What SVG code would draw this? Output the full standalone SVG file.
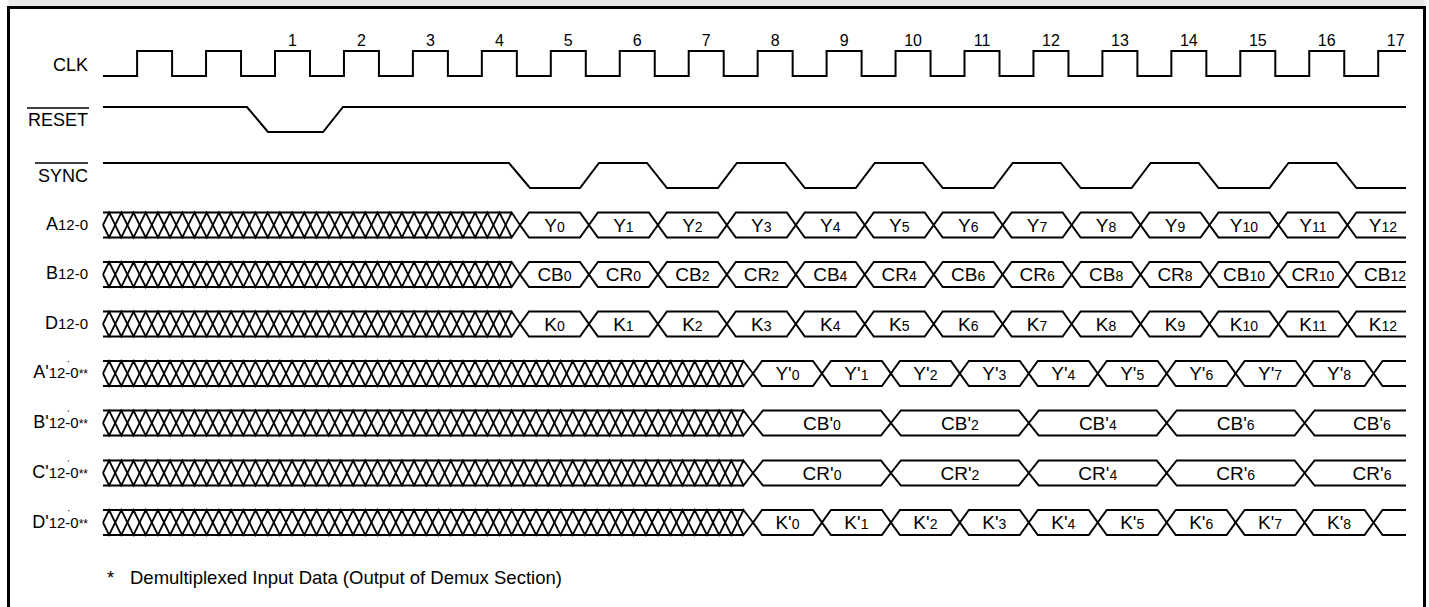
<svg xmlns="http://www.w3.org/2000/svg" width="1429" height="607" viewBox="0 0 1429 607">
<style>
.ln{fill:none;stroke:#000;stroke-width:2;stroke-linejoin:miter}
.hx{fill:none;stroke:#000;stroke-width:1.8;stroke-linejoin:miter}
.bx{fill:#fff;stroke:#000;stroke-width:2;stroke-linejoin:miter}
text{font-family:"Liberation Sans",Arial,Helvetica,sans-serif;fill:#000}
.lbl{font-size:18px;text-anchor:end}
.ls{font-size:15px}
.ast{font-size:12px}
.num{font-size:16px;text-anchor:middle}
.bus{font-size:19px;text-anchor:middle}
.bs{font-size:14px}
.foot{font-size:18.5px}
.ov{stroke:#000;stroke-width:1.5}
</style>
<defs>
<path id="zzS" class="hx" d="M103,12.5 L109.1,0 L121.3,25 L133.5,0 L145.7,25 L157.9,0 L170.1,25 L182.3,0 L194.5,25 L206.7,0 L218.9,25 L231.1,0 L243.3,25 L255.5,0 L267.7,25 L279.9,0 L292.1,25 L304.3,0 L316.5,25 L328.7,0 L340.9,25 L353.1,0 L365.3,25 L377.5,0 L389.7,25 L401.9,0 L414.1,25 L426.3,0 L438.5,25 L450.7,0 L462.9,25 L475.1,0 L487.3,25 L499.5,0 L511.7,25 L520,12.5"/>
<path id="zzL" class="hx" d="M103,12.5 L109.1,0 L121.3,25 L133.5,0 L145.7,25 L157.9,0 L170.1,25 L182.3,0 L194.5,25 L206.7,0 L218.9,25 L231.1,0 L243.3,25 L255.5,0 L267.7,25 L279.9,0 L292.1,25 L304.3,0 L316.5,25 L328.7,0 L340.9,25 L353.1,0 L365.3,25 L377.5,0 L389.7,25 L401.9,0 L414.1,25 L426.3,0 L438.5,25 L450.7,0 L462.9,25 L475.1,0 L487.3,25 L499.5,0 L511.7,25 L523.9,0 L536.1,25 L548.3,0 L560.5,25 L572.7,0 L584.9,25 L597.1,0 L609.3,25 L621.5,0 L633.7,25 L645.9,0 L658.1,25 L670.3,0 L682.5,25 L694.7,0 L706.9,25 L719.1,0 L731.3,25 L743.5,0 L753,12.5"/>
<g id="hatchS">
<use href="#zzS"/>
<use href="#zzS" transform="matrix(1,0,0,-1,0,25)"/>
<path class="ln" d="M103,0 H511.7 M103,25 H511.7"/>
</g>
<g id="hatchL">
<use href="#zzL"/>
<use href="#zzL" transform="matrix(1,0,0,-1,0,25)"/>
<path class="ln" d="M103,0 H743.5 M103,25 H743.5"/>
</g>
<path id="hex69" class="bx" d="M0,12.5 L9,0 L59.95,0 L68.95,12.5 L59.95,25 L9,25 Z"/>
<path id="hex138" class="bx" d="M0,12.5 L10,0 L127.9,0 L137.9,12.5 L127.9,25 L10,25 Z"/>
<path id="tailS" class="ln" d="M0,12.5 L9,0 H58.6 M0,12.5 L9,25 H58.6"/>
<path id="tailP" class="ln" d="M0,12.5 L9,0 H32.45 M0,12.5 L9,25 H32.45"/>
<path id="tailW" class="ln" d="M0,12.5 L10,0 H101.4 M0,12.5 L10,25 H101.4"/>
<g id="rowS">
<use href="#hatchS"/>
<use href="#hex69" x="520"/><use href="#hex69" x="588.95"/><use href="#hex69" x="657.9"/><use href="#hex69" x="726.85"/><use href="#hex69" x="795.8"/><use href="#hex69" x="864.75"/><use href="#hex69" x="933.7"/><use href="#hex69" x="1002.65"/><use href="#hex69" x="1071.6"/><use href="#hex69" x="1140.55"/><use href="#hex69" x="1209.5"/><use href="#hex69" x="1278.45"/>
<use href="#tailS" x="1347.4"/>
</g>
<g id="rowP">
<use href="#hatchL"/>
<use href="#hex69" x="753"/><use href="#hex69" x="821.95"/><use href="#hex69" x="890.9"/><use href="#hex69" x="959.85"/><use href="#hex69" x="1028.8"/><use href="#hex69" x="1097.75"/><use href="#hex69" x="1166.7"/><use href="#hex69" x="1235.65"/><use href="#hex69" x="1304.6"/>
<use href="#tailP" x="1373.55"/>
</g>
<g id="rowW">
<use href="#hatchL"/>
<use href="#hex138" x="753"/><use href="#hex138" x="890.9"/><use href="#hex138" x="1028.8"/><use href="#hex138" x="1166.7"/>
<use href="#tailW" x="1304.6"/>
</g>
</defs>

<g id="frame">
<rect x="8.5" y="0" width="1416" height="7" fill="#e8e8e8"/>
<path d="M8.5,607 V7.5 H1424.5 V607" fill="none" stroke="#000" stroke-width="3"/>
</g>

<g id="clk">
<text class="lbl" x="88" y="71">CLK</text>
<path class="ln" d="M103,76 H137.1 V51 H172.1 V76 H206.05 V51 H241.05 V76 H275 V51 H310 V76 H343.95 V51 H378.95 V76 H412.9 V51 H447.9 V76 H481.85 V51 H516.85 V76 H550.8 V51 H585.8 V76 H619.75 V51 H654.75 V76 H688.7 V51 H723.7 V76 H757.65 V51 H792.65 V76 H826.6 V51 H861.6 V76 H895.55 V51 H930.55 V76 H964.5 V51 H999.5 V76 H1033.45 V51 H1068.45 V76 H1102.4 V51 H1137.4 V76 H1171.35 V51 H1206.35 V76 H1240.3 V51 H1275.3 V76 H1309.25 V51 H1344.25 V76 H1378.2 V51 H1406"/>
<text class="num" x="292.5" y="46">1</text>
<text class="num" x="361.45" y="46">2</text>
<text class="num" x="430.4" y="46">3</text>
<text class="num" x="499.35" y="46">4</text>
<text class="num" x="568.3" y="46">5</text>
<text class="num" x="637.25" y="46">6</text>
<text class="num" x="706.2" y="46">7</text>
<text class="num" x="775.15" y="46">8</text>
<text class="num" x="844.1" y="46">9</text>
<text class="num" x="913.05" y="46">10</text>
<text class="num" x="982" y="46">11</text>
<text class="num" x="1050.95" y="46">12</text>
<text class="num" x="1119.9" y="46">13</text>
<text class="num" x="1188.85" y="46">14</text>
<text class="num" x="1257.8" y="46">15</text>
<text class="num" x="1326.75" y="46">16</text>
<text class="num" x="1395.7" y="46">17</text>
</g>

<g id="reset">
<text class="lbl" x="88" y="126">RESET</text>
<line class="ov" x1="27" y1="108" x2="89" y2="108"/>
<path class="ln" d="M103,107 H247 L268,132 H323 L343,107 H1406"/>
</g>

<g id="sync">
<text class="lbl" x="88" y="182">SYNC</text>
<line class="ov" x1="35" y1="163" x2="88" y2="163"/>
<path class="ln" d="M103,163 H509 L530,188 H580 L599,163 H647 L667,188 H717.9 L736.9,163 H784.9 L804.9,188 H855.8 L874.8,163 H922.8 L942.8,188 H993.7 L1012.7,163 H1060.7 L1080.7,188 H1131.6 L1150.6,163 H1198.6 L1218.6,188 H1269.5 L1288.5,163 H1336.5 L1356.5,188 H1406"/>
</g>

<g id="busA">
<text class="lbl" x="88" y="229.5">A<tspan class="ls">12-0</tspan></text>
<use href="#rowS" y="212.5"/>
<g class="bus">
<text class="bus" x="554.5" y="231.5">Y<tspan class="bs">0</tspan></text>
<text class="bus" x="623.4" y="231.5">Y<tspan class="bs">1</tspan></text>
<text class="bus" x="692.4" y="231.5">Y<tspan class="bs">2</tspan></text>
<text class="bus" x="761.3" y="231.5">Y<tspan class="bs">3</tspan></text>
<text class="bus" x="830.3" y="231.5">Y<tspan class="bs">4</tspan></text>
<text class="bus" x="899.2" y="231.5">Y<tspan class="bs">5</tspan></text>
<text class="bus" x="968.2" y="231.5">Y<tspan class="bs">6</tspan></text>
<text class="bus" x="1037.1" y="231.5">Y<tspan class="bs">7</tspan></text>
<text class="bus" x="1106.1" y="231.5">Y<tspan class="bs">8</tspan></text>
<text class="bus" x="1175" y="231.5">Y<tspan class="bs">9</tspan></text>
<text class="bus" x="1244" y="231.5">Y<tspan class="bs">10</tspan></text>
<text class="bus" x="1312.9" y="231.5">Y<tspan class="bs">11</tspan></text>
<text class="bus" x="1383" y="231.5">Y<tspan class="bs">12</tspan></text>
</g>
</g>

<g id="busB">
<text class="lbl" x="88" y="279.3">B<tspan class="ls">12-0</tspan></text>
<use href="#rowS" y="262"/>
<text class="bus" x="554.5" y="281">CB<tspan class="bs">0</tspan></text>
<text class="bus" x="623.4" y="281">CR<tspan class="bs">0</tspan></text>
<text class="bus" x="692.4" y="281">CB<tspan class="bs">2</tspan></text>
<text class="bus" x="761.3" y="281">CR<tspan class="bs">2</tspan></text>
<text class="bus" x="830.3" y="281">CB<tspan class="bs">4</tspan></text>
<text class="bus" x="899.2" y="281">CR<tspan class="bs">4</tspan></text>
<text class="bus" x="968.2" y="281">CB<tspan class="bs">6</tspan></text>
<text class="bus" x="1037.1" y="281">CR<tspan class="bs">6</tspan></text>
<text class="bus" x="1106.1" y="281">CB<tspan class="bs">8</tspan></text>
<text class="bus" x="1175" y="281">CR<tspan class="bs">8</tspan></text>
<text class="bus" x="1244" y="281">CB<tspan class="bs">10</tspan></text>
<text class="bus" x="1312.9" y="281">CR<tspan class="bs">10</tspan></text>
<text class="bus" x="1385" y="281">CB<tspan class="bs">12</tspan></text>
</g>

<g id="busD">
<text class="lbl" x="88" y="329">D<tspan class="ls">12-0</tspan></text>
<use href="#rowS" y="311.5"/>
<text class="bus" x="554.5" y="330.5">K<tspan class="bs">0</tspan></text>
<text class="bus" x="623.4" y="330.5">K<tspan class="bs">1</tspan></text>
<text class="bus" x="692.4" y="330.5">K<tspan class="bs">2</tspan></text>
<text class="bus" x="761.3" y="330.5">K<tspan class="bs">3</tspan></text>
<text class="bus" x="830.3" y="330.5">K<tspan class="bs">4</tspan></text>
<text class="bus" x="899.2" y="330.5">K<tspan class="bs">5</tspan></text>
<text class="bus" x="968.2" y="330.5">K<tspan class="bs">6</tspan></text>
<text class="bus" x="1037.1" y="330.5">K<tspan class="bs">7</tspan></text>
<text class="bus" x="1106.1" y="330.5">K<tspan class="bs">8</tspan></text>
<text class="bus" x="1175" y="330.5">K<tspan class="bs">9</tspan></text>
<text class="bus" x="1244" y="330.5">K<tspan class="bs">10</tspan></text>
<text class="bus" x="1312.9" y="330.5">K<tspan class="bs">11</tspan></text>
<text class="bus" x="1383" y="330.5">K<tspan class="bs">12</tspan></text>
</g>

<g id="busAp">
<text class="lbl" x="88" y="378.3">A'<tspan class="ls">12-0</tspan><tspan class="ast">**</tspan></text>
<rect x="67.8" y="361" width="1.3" height="1.3" fill="#555"/>
<use href="#rowP" y="361"/>
<text class="bus" x="787.5" y="380">Y'<tspan class="bs">0</tspan></text>
<text class="bus" x="856.4" y="380">Y'<tspan class="bs">1</tspan></text>
<text class="bus" x="925.4" y="380">Y'<tspan class="bs">2</tspan></text>
<text class="bus" x="994.3" y="380">Y'<tspan class="bs">3</tspan></text>
<text class="bus" x="1063.3" y="380">Y'<tspan class="bs">4</tspan></text>
<text class="bus" x="1132.2" y="380">Y'<tspan class="bs">5</tspan></text>
<text class="bus" x="1201.2" y="380">Y'<tspan class="bs">6</tspan></text>
<text class="bus" x="1270.1" y="380">Y'<tspan class="bs">7</tspan></text>
<text class="bus" x="1339.1" y="380">Y'<tspan class="bs">8</tspan></text>
</g>

<g id="busBp">
<text class="lbl" x="88" y="428">B'<tspan class="ls">12-0</tspan><tspan class="ast">**</tspan></text>
<rect x="67.8" y="410.5" width="1.3" height="1.3" fill="#555"/>
<use href="#rowW" y="410.5"/>
<text class="bus" x="822" y="429.5">CB'<tspan class="bs">0</tspan></text>
<text class="bus" x="959.9" y="429.5">CB'<tspan class="bs">2</tspan></text>
<text class="bus" x="1097.8" y="429.5">CB'<tspan class="bs">4</tspan></text>
<text class="bus" x="1235.7" y="429.5">CB'<tspan class="bs">6</tspan></text>
<text class="bus" x="1372" y="429.5">CB'<tspan class="bs">6</tspan></text>
</g>

<g id="busCp">
<text class="lbl" x="88" y="478">C'<tspan class="ls">12-0</tspan><tspan class="ast">**</tspan></text>
<rect x="67.8" y="460.5" width="1.3" height="1.3" fill="#555"/>
<use href="#rowW" y="460.5"/>
<text class="bus" x="822" y="479.5">CR'<tspan class="bs">0</tspan></text>
<text class="bus" x="959.9" y="479.5">CR'<tspan class="bs">2</tspan></text>
<text class="bus" x="1097.8" y="479.5">CR'<tspan class="bs">4</tspan></text>
<text class="bus" x="1235.7" y="479.5">CR'<tspan class="bs">6</tspan></text>
<text class="bus" x="1372" y="479.5">CR'<tspan class="bs">6</tspan></text>
</g>

<g id="busDp">
<text class="lbl" x="88" y="527.7">D'<tspan class="ls">12-0</tspan><tspan class="ast">**</tspan></text>
<rect x="68.3" y="510" width="1.3" height="1.3" fill="#555"/>
<use href="#rowP" y="510"/>
<text class="bus" x="787.5" y="529">K'<tspan class="bs">0</tspan></text>
<text class="bus" x="856.4" y="529">K'<tspan class="bs">1</tspan></text>
<text class="bus" x="925.4" y="529">K'<tspan class="bs">2</tspan></text>
<text class="bus" x="994.3" y="529">K'<tspan class="bs">3</tspan></text>
<text class="bus" x="1063.3" y="529">K'<tspan class="bs">4</tspan></text>
<text class="bus" x="1132.2" y="529">K'<tspan class="bs">5</tspan></text>
<text class="bus" x="1201.2" y="529">K'<tspan class="bs">6</tspan></text>
<text class="bus" x="1270.1" y="529">K'<tspan class="bs">7</tspan></text>
<text class="bus" x="1339.1" y="529">K'<tspan class="bs">8</tspan></text>
</g>

<g id="footnote">
<text class="foot" x="107" y="584">*<tspan x="130">Demultiplexed Input Data (Output of Demux Section)</tspan></text>
</g>
</svg>
